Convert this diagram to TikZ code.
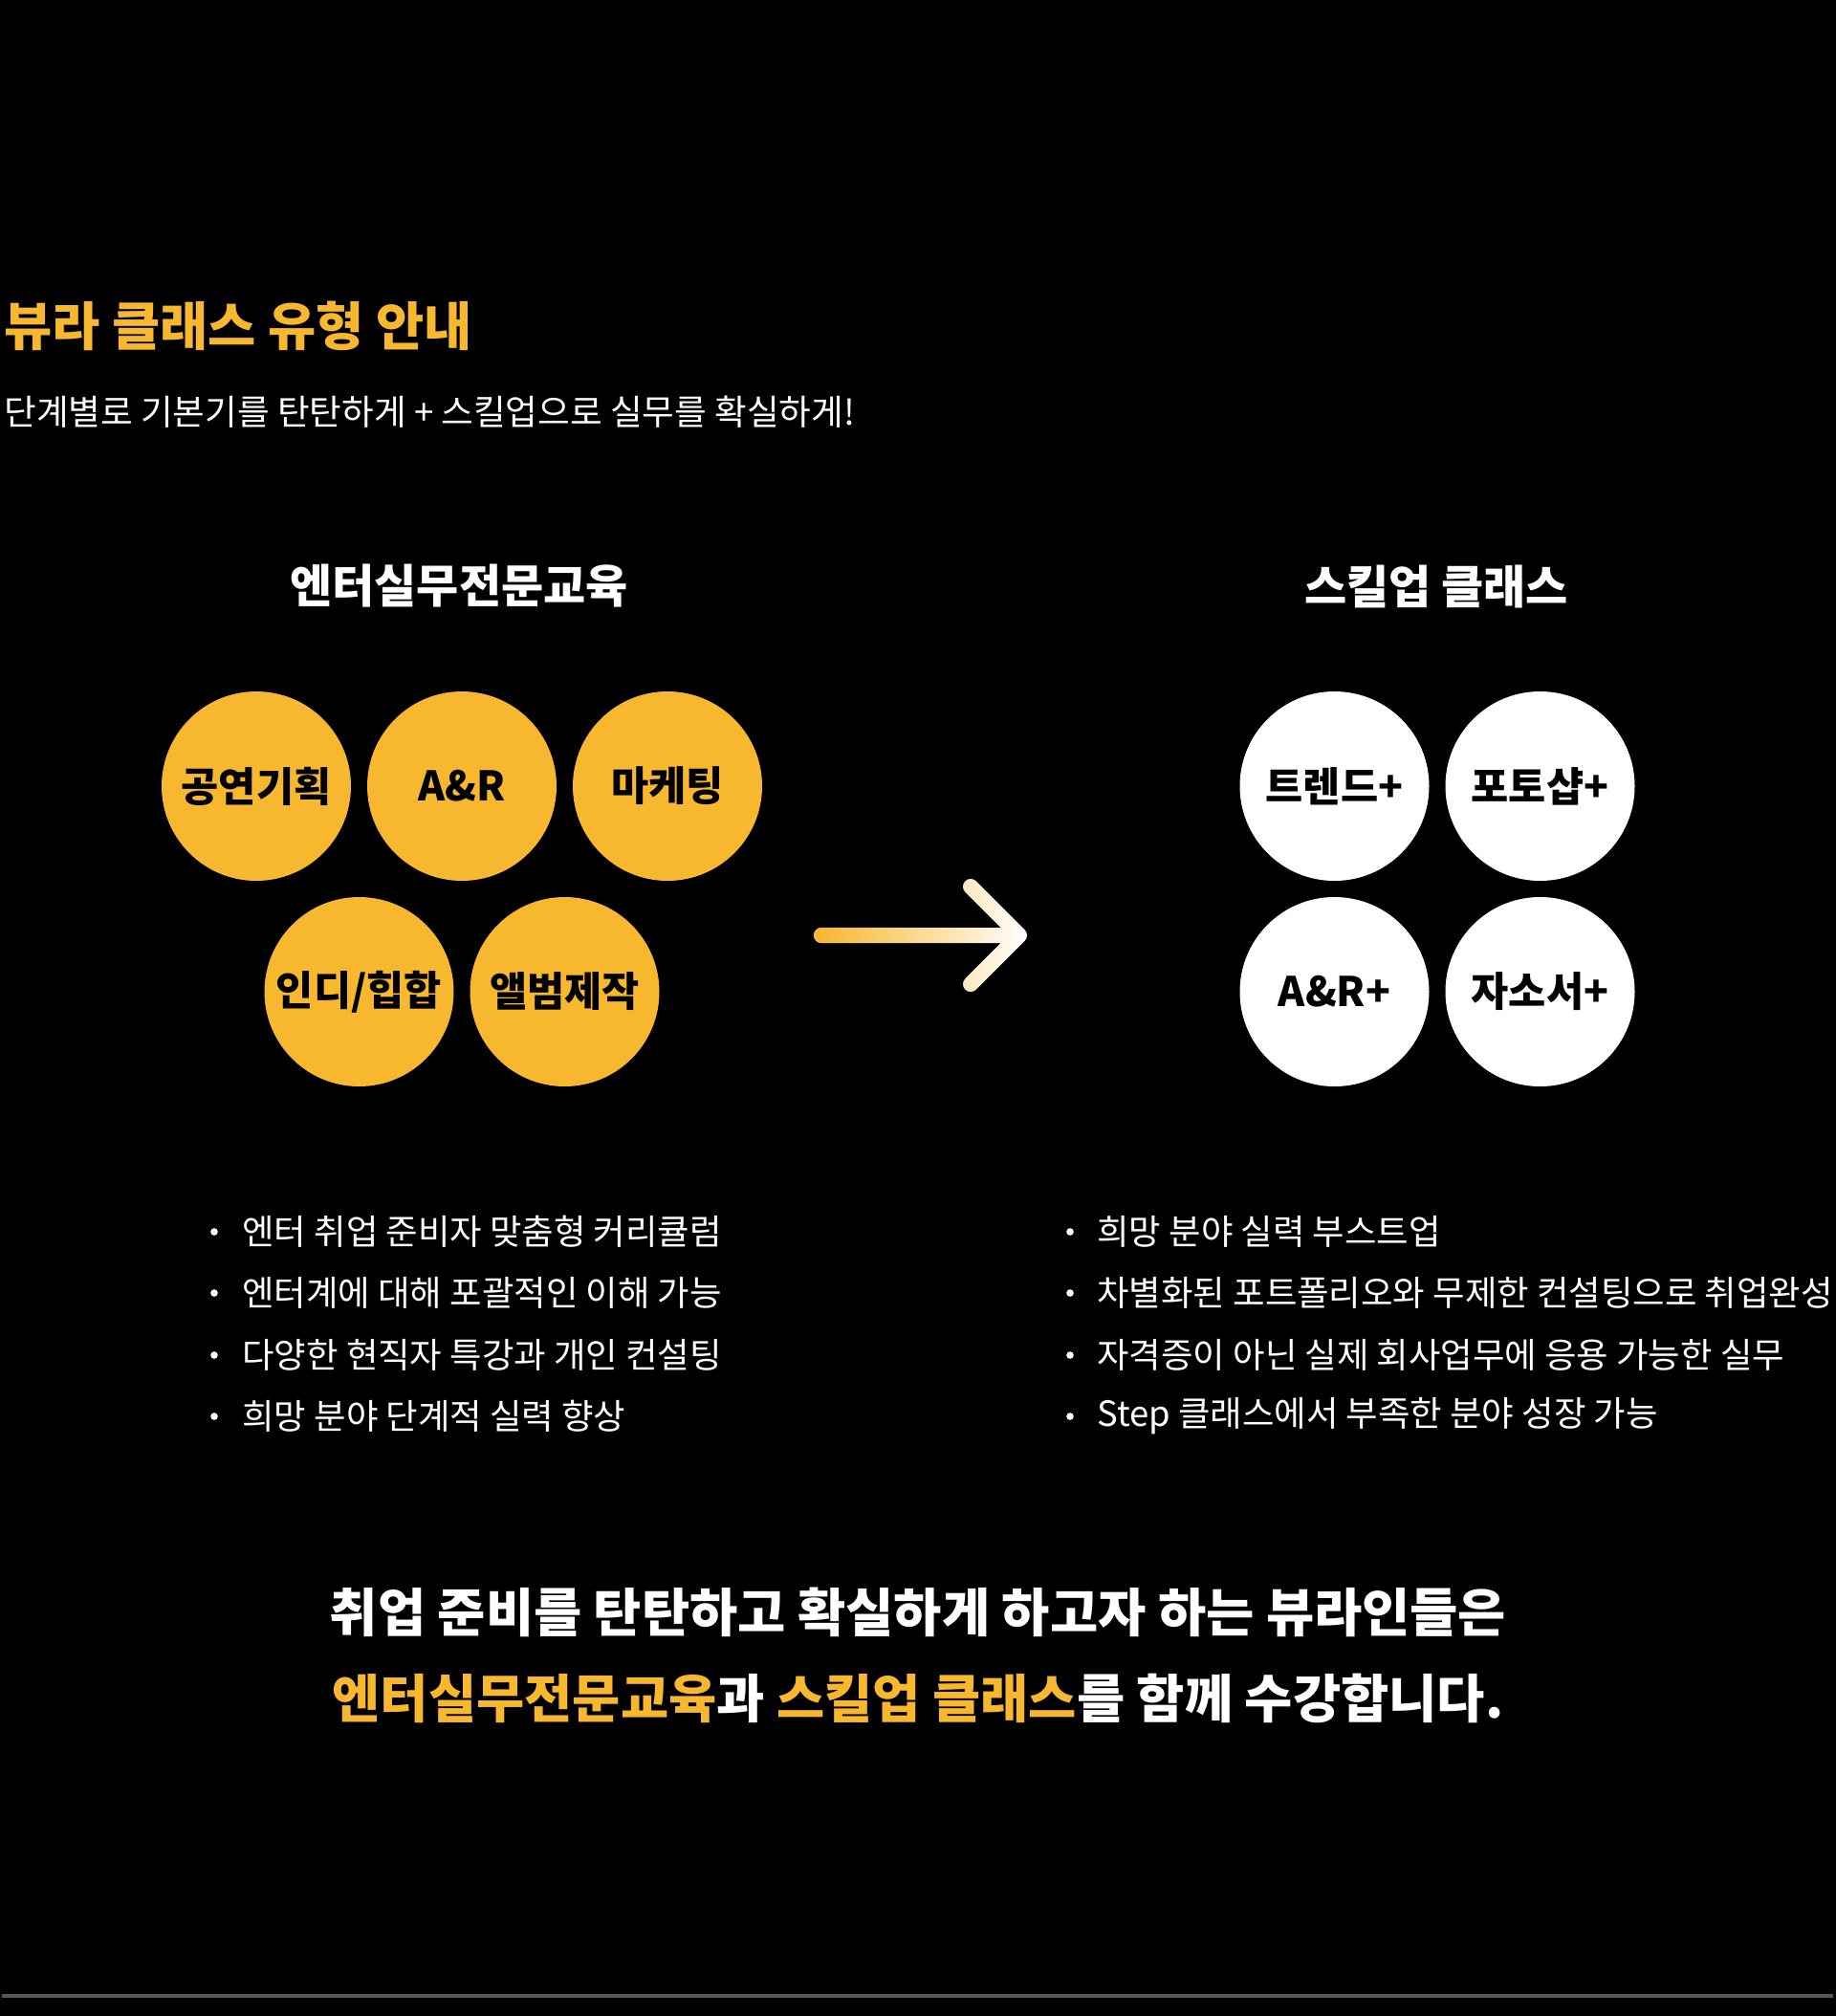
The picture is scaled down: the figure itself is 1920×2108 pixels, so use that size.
\documentclass[tikz,border=0pt]{standalone}
\usepackage{fontspec}
\setmainfont{Noto Sans CJK KR}
\usetikzlibrary{fadings}
\definecolor{ylw}{RGB}{247,183,47}
\definecolor{linegray}{RGB}{88,88,88}
\begin{document}
\begin{tikzpicture}[x=0.5pt,y=-0.5pt,
  ycirc/.style={circle, fill=ylw, minimum size=99pt, inner sep=0pt, text=black, font=\fontsize{21.3}{21.3}\selectfont\bfseries},
  wcirc/.style={circle, fill=white, minimum size=99pt, inner sep=0pt, text=black, font=\fontsize{21.3}{21.3}\selectfont\bfseries},
  heading/.style={text=white, inner sep=0pt, font=\fontsize{24}{24}\selectfont\bfseries},
  bullettext/.style={text=white, inner sep=0pt, anchor=west, font=\fontsize{18.2}{18.2}\selectfont},
  bulletdot/.style={circle, fill=white, minimum size=3.8pt, inner sep=0pt},
  bottomtext/.style={text=white, inner sep=0pt, font=\fontsize{27.3}{27.3}\selectfont\bfseries},
  arrowline/.style={line width=8pt, line cap=round, line join=round}]
\fill[black] (0,0) rectangle (1920,2108);
\useasboundingbox (0,0) rectangle (1920,2108);

% title and subtitle
\node[text=ylw, inner sep=0pt, anchor=west, font=\fontsize{27.3}{27.3}\selectfont\bfseries] (title) at (4,341) {뷰라 클래스 유형 안내};
\node[text=white, inner sep=0pt, anchor=west, font=\fontsize{18.3}{18.3}\selectfont] (subtitle) at (4,431) {단계별로 기본기를 탄탄하게 + 스킬업으로 실무를 확실하게!};

% headings
\node[heading] (h1) at (480,613) {엔터실무전문교육};
\node[heading] (h2) at (1502,613) {스킬업 클래스};

% left circles
\node[ycirc] (c1) at (268,822) {공연기획};
\node[ycirc] (c2) at (483,822) {A\&R};
\node[ycirc] (c3) at (698,822) {마케팅};
\node[ycirc] (c4) at (375.5,1037) {인디/힙합};
\node[ycirc] (c5) at (590.5,1037) {앨범제작};

% right circles
\node[wcirc] (d1) at (1395.5,822) {트렌드+};
\node[wcirc] (d2) at (1610.5,822) {포토샵+};
\node[wcirc] (d3) at (1395.5,1037) {A\&R+};
\node[wcirc] (d4) at (1610.5,1037) {자소서+};

% arrow
\coordinate (a0) at (859,978);
\coordinate (a1) at (1066,978);
\coordinate (a2) at (1015,927);
\coordinate (a3) at (1015,1029);
\draw[white, arrowline] (a0) -- (a1) (a2) -- (a1) -- (a3);
\draw[ylw, arrowline, path fading=east] (a0) -- (a1) (a2) -- (a1) -- (a3);

% left bullets
\node[bulletdot] (lb1) at (224,1288) {};
\node[bulletdot] (lb2) at (224,1352) {};
\node[bulletdot] (lb3) at (224,1417) {};
\node[bulletdot] (lb4) at (224,1481) {};
\node[bullettext] (lt1) at (253,1288) {엔터 취업 준비자 맞춤형 커리큘럼};
\node[bullettext] (lt2) at (253,1352) {엔터계에 대해 포괄적인 이해 가능};
\node[bullettext] (lt3) at (253,1417) {다양한 현직자 특강과 개인 컨설팅};
\node[bullettext] (lt4) at (253,1481) {희망 분야 단계적 실력 향상};

% right bullets
\node[bulletdot] (rb1) at (1119,1288) {};
\node[bulletdot] (rb2) at (1119,1352) {};
\node[bulletdot] (rb3) at (1119,1417) {};
\node[bulletdot] (rb4) at (1119,1481) {};
\node[bullettext] (rt1) at (1147,1288) {희망 분야 실력 부스트업};
\node[bullettext] (rt2) at (1147,1352) {차별화된 포트폴리오와 무제한 컨설팅으로 취업완성};
\node[bullettext] (rt3) at (1147,1417) {자격증이 아닌 실제 회사업무에 응용 가능한 실무};
\node[bullettext] (rt4) at (1147,1481) {Step 클래스에서 부족한 분야 성장 가능};

% bottom statement
\node[bottomtext] (s1) at (960,1686) {취업 준비를 탄탄하고 확실하게 하고자 하는 뷰라인들은};
\node[bottomtext] (s2) at (960,1776) {{\color{ylw}엔터실무전문교육}과 {\color{ylw}스킬업 클래스}를 함께 수강합니다.};

% bottom rule
\coordinate (g0) at (2,2087);
\coordinate (g1) at (1917,2087);
\draw[linegray, line width=1.75pt] (g0) -- (g1);
\end{tikzpicture}
\end{document}
